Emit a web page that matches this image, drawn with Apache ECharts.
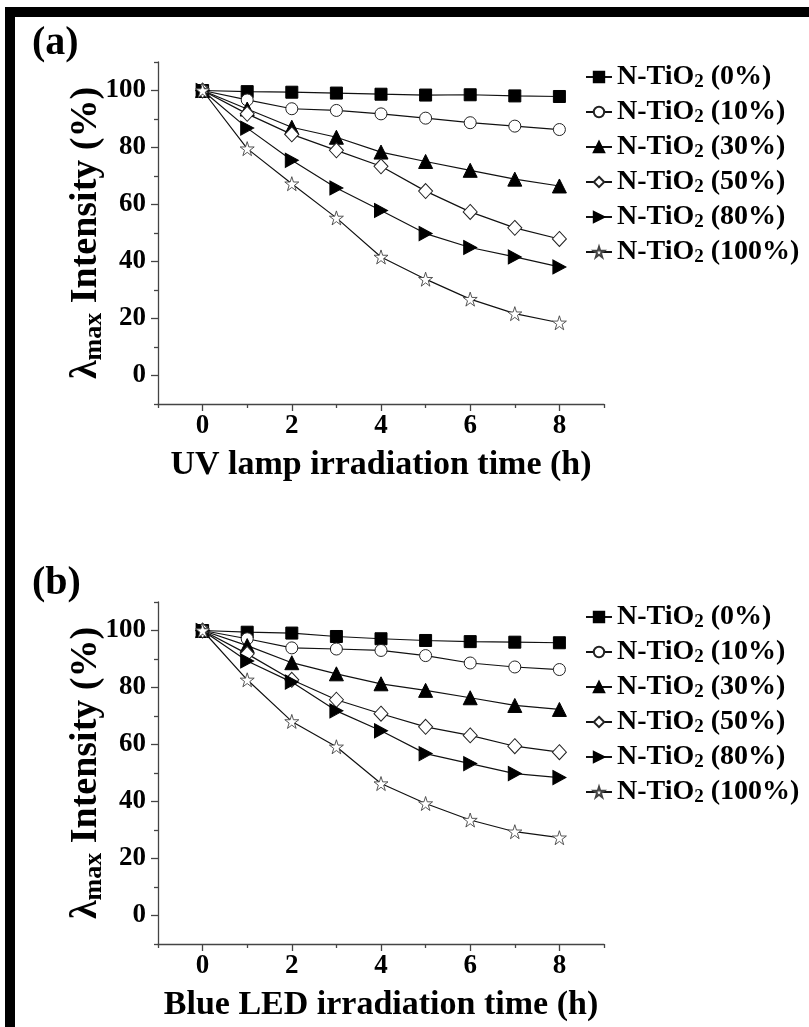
<!DOCTYPE html>
<html>
<head>
<meta charset="utf-8">
<script src="https://cdn.jsdelivr.net/npm/echarts@6/dist/echarts.min.js"></script>
<style>
  html, body { margin: 0; padding: 0; background: #fff; }
  #chart { width: 809px; height: 1027px; }
</style>
</head>
<body>
<div id="chart"></div>
<script>
// Irradiation time (h)
const hours = [0, 1, 2, 3, 4, 5, 6, 7, 8];
const loadings = ['N-TiO2 (0%)', 'N-TiO2 (10%)', 'N-TiO2 (30%)', 'N-TiO2 (50%)', 'N-TiO2 (80%)', 'N-TiO2 (100%)'];
const xTickValues = [0, 2, 4, 6, 8];
const yTickValues = [0, 20, 40, 60, 80, 100];

// (a) UV lamp: lambda-max intensity (%)
const uv0   = [100, 99.6, 99.4, 99.1, 98.7, 98.4, 98.5, 98.1, 97.9];
const uv10  = [100, 96.7, 93.6, 93.0, 91.8, 90.3, 88.7, 87.5, 86.3];
const uv30  = [100, 93.5, 87.1, 83.6, 78.4, 75.1, 72.0, 68.9, 66.5];
const uv50  = [100, 91.8, 84.6, 79.0, 73.4, 64.7, 57.4, 51.8, 47.9];
const uv80  = [100, 86.8, 75.5, 65.8, 57.9, 49.8, 44.9, 41.6, 38.1];
const uv100 = [100, 79.6, 67.3, 55.3, 41.6, 33.8, 26.8, 21.7, 18.5];

// (b) Blue LED: lambda-max intensity (%)
const led0   = [100, 99.4, 99.1, 97.9, 97.1, 96.5, 96.1, 95.9, 95.7];
const led10  = [100, 97.1, 93.9, 93.5, 93.0, 91.2, 88.6, 87.2, 86.3];
const led30  = [100, 94.7, 88.7, 84.8, 81.3, 79.0, 76.4, 73.7, 72.3];
const led50  = [100, 91.8, 82.7, 75.7, 70.8, 66.2, 63.2, 59.4, 57.3];
const led80  = [100, 89.3, 81.9, 71.8, 64.8, 56.8, 53.3, 49.8, 48.4];
const led100 = [100, 82.7, 68.1, 59.2, 46.3, 39.3, 33.5, 29.4, 27.3];

const uvSets = [uv0, uv10, uv30, uv50, uv80, uv100];
const ledSets = [led0, led10, led30, led50, led80, led100];

const FONT = "'Liberation Serif', 'Times New Roman', serif";
const starPath = 'path://M50,2L61.2,36.2L97.6,36.2L68.2,57.6L79.4,92L50,70.8L20.6,92L31.8,57.6L2.4,36.2L38.8,36.2Z';
const markers = [
  { symbol: 'rect', size: 12, fill: '#000', border: '#000', bw: 1 },
  { symbol: 'circle', size: 12, fill: '#fff', border: '#222', bw: 1 },
  { symbol: 'triangle', size: 14, fill: '#000', border: '#000', bw: 1 },
  { symbol: 'diamond', size: [14, 15], fill: '#fff', border: '#222', bw: 1 },
  { symbol: 'path://M0,0L10,5L0,10Z', size: [13, 14], fill: '#000', border: '#000', bw: 1 },
  { symbol: starPath, size: 14, fill: '#fff', border: '#444', bw: 0.9 }
];

const panels = [
  { top: 62, xName: 'UV lamp irradiation time (h)', sets: uvSets, legendTop: 57 },
  { top: 602, xName: 'Blue LED irradiation time (h)', sets: ledSets, legendTop: 597 }
];

const grid = [], xAxis = [], yAxis = [], series = [], legend = [];

const axisLineStyle = { color: '#444', width: 1.3 };

panels.forEach((p, pi) => {
  grid.push({ left: 158, top: p.top, width: 446, height: 342 });
  // labelled axes with major ticks
  xAxis.push({
    type: 'value', gridIndex: pi, position: 'bottom', min: -1, max: 9,
    name: p.xName, nameLocation: 'middle', nameGap: 44, nameMoveOverlap: false,
    nameTextStyle: { fontFamily: FONT, fontWeight: 'bold', fontSize: 34, color: '#000' },
    axisLine: { show: true, onZero: false, lineStyle: axisLineStyle },
    axisTick: { show: true, length: 7, customValues: xTickValues, lineStyle: axisLineStyle },
    axisLabel: { customValues: xTickValues, margin: 9, fontFamily: FONT, fontWeight: 'bold', fontSize: 27, color: '#000' },
    splitLine: { show: false }
  });
  // minor ticks at odd hours
  xAxis.push({
    type: 'value', gridIndex: pi, position: 'bottom', min: -1, max: 9, interval: 2,
    axisLine: { show: false, onZero: false },
    axisTick: { show: true, length: 4, lineStyle: axisLineStyle },
    axisLabel: { show: false },
    splitLine: { show: false }
  });
  yAxis.push({
    type: 'value', gridIndex: pi, position: 'left', min: -10, max: 110,
    name: '{l|λ}{s|max} Intensity (%)', nameLocation: 'middle', nameGap: 51, nameMoveOverlap: false,
    nameTextStyle: {
      fontFamily: FONT, fontWeight: 'bold', fontSize: 38, color: '#000', lineHeight: 42,
      rich: {
        l: { fontFamily: FONT, fontWeight: 'bold', fontSize: 38, lineHeight: 42 },
        s: { fontFamily: FONT, fontWeight: 'bold', fontSize: 26, lineHeight: 38, verticalAlign: 'bottom' }
      }
    },
    axisLine: { show: true, onZero: false, lineStyle: axisLineStyle },
    axisTick: { show: true, length: 7, customValues: yTickValues, lineStyle: axisLineStyle },
    axisLabel: { customValues: yTickValues, margin: 12, fontFamily: FONT, fontWeight: 'bold', fontSize: 27, color: '#000' },
    splitLine: { show: false }
  });
  // minor ticks between labelled values
  yAxis.push({
    type: 'value', gridIndex: pi, position: 'left', min: -10, max: 110, interval: 20,
    axisLine: { show: false, onZero: false },
    axisTick: { show: true, length: 4, lineStyle: axisLineStyle },
    axisLabel: { show: false },
    splitLine: { show: false }
  });

  loadings.forEach((name, si) => {
    const m = markers[si];
    series.push({
      type: 'line', name: name,
      xAxisIndex: pi * 2, yAxisIndex: pi * 2,
      data: hours.map((h, k) => [h, p.sets[si][k]]),
      symbol: m.symbol, symbolSize: m.size, showAllSymbol: true,
      lineStyle: { color: '#111', width: 1.2 },
      itemStyle: { color: m.fill, borderColor: m.border, borderWidth: m.bw },
      emphasis: { disabled: true },
      z: 2 + si
    });
  });

  legend.push({
    data: loadings, orient: 'vertical', left: 580, top: p.legendTop,
    itemWidth: 26, itemHeight: 13, itemGap: 5, selectedMode: false,
    formatter: n => n.replace('TiO2', 'TiO{s|2}'),
    textStyle: {
      fontFamily: FONT, fontWeight: 'bold', fontSize: 28, color: '#000', lineHeight: 30,
      rich: { s: { fontFamily: FONT, fontWeight: 'bold', fontSize: 19, color: '#000', lineHeight: 20, verticalAlign: 'bottom' } }
    }
  });
});

const chart = echarts.init(document.getElementById('chart'), null, { renderer: 'canvas' });
chart.setOption({
  backgroundColor: '#fff',
  animation: false,
  grid, xAxis, yAxis, series, legend,
  graphic: [
    { type: 'rect', shape: { x: 5, y: 7, width: 804, height: 10 }, style: { fill: '#000' } },
    { type: 'rect', shape: { x: 5, y: 7, width: 10, height: 1020 }, style: { fill: '#000' } },
    { type: 'text', x: 32, y: 24, style: { text: '(a)', fontFamily: FONT, fontWeight: 'bold', fontSize: 40, fill: '#000' } },
    { type: 'text', x: 32, y: 564, style: { text: '(b)', fontFamily: FONT, fontWeight: 'bold', fontSize: 40, fill: '#000' } }
  ]
});
</script>
</body>
</html>
